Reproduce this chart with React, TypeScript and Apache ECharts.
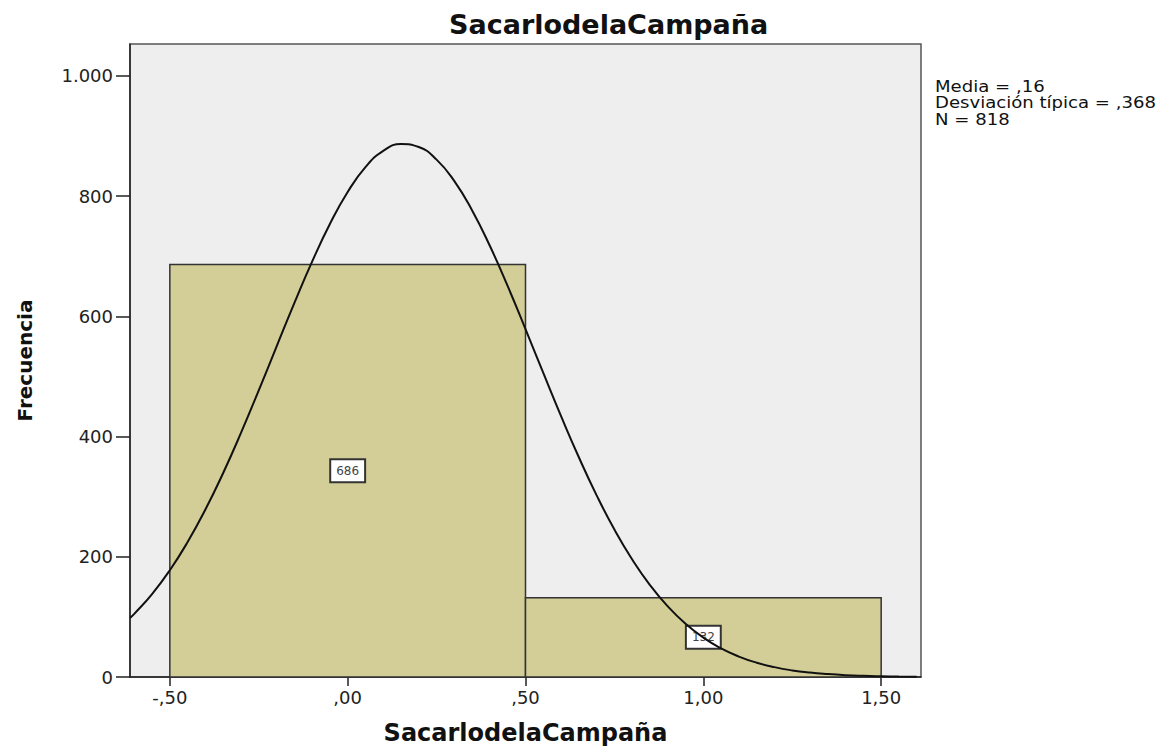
import React, { useEffect, useRef } from "react";
import * as echarts from "echarts";

const chartTitle = "SacarlodelaCampaña";
const xAxisName = "SacarlodelaCampaña";
const yAxisName = "Frecuencia";
const statsLines = ["Media = ,16", "Desviación típica = ,368", "N = 818"];

// histogram bins: [start, end]
const binStarts = [-0.5, 0.5];
const binEnds = [0.5, 1.5];
const binCounts = [686, 132];

const xTicks = [-0.5, 0, 0.5, 1, 1.5];
const yTicks = [0, 200, 400, 600, 800, 1000];

// fitted normal curve
const curveX = [
  -0.612, -0.6, -0.55, -0.5, -0.45, -0.4, -0.35, -0.3, -0.25, -0.2, -0.15, -0.1, -0.05, 0,
  0.05, 0.1, 0.15, 0.2, 0.25, 0.3, 0.35, 0.4, 0.45, 0.5, 0.55, 0.6, 0.65, 0.7, 0.75, 0.8,
  0.85, 0.9, 0.95, 1.0, 1.05, 1.1, 1.15, 1.2, 1.25, 1.3, 1.35, 1.4, 1.45, 1.5, 1.55, 1.6,
];
const curveY = [
  98.3, 105.1, 137.9, 177.6, 224.5, 278.6, 339.4, 406.0, 476.8, 549.6, 621.9, 690.9, 753.6, 806.8,
  848.1, 875.1, 886.5, 881.6, 860.7, 824.9, 776.1, 716.9, 650.1, 578.7, 505.8, 433.9, 365.5, 302.2, 245.3, 195.5,
  152.9, 117.4, 88.5, 65.5, 47.6, 34.0, 23.8, 16.4, 11.0, 7.3, 4.8, 3.0, 1.9, 1.2, 0.7, 0.4,
];

const FONT = "'DejaVu Sans', 'Liberation Sans', Arial, sans-serif";

function fmtX(v: number): string {
  let s = v.toFixed(2).replace(".", ",");
  s = s.replace(/^(-?)0,/, "$1,");
  return s;
}
function fmtY(v: number): string {
  return v >= 1000 ? String(v).replace(/(\d)(\d{3})$/, "$1.$2") : String(v);
}

export default function App() {
  const ref = useRef<HTMLDivElement>(null);
  useEffect(() => {
    if (!ref.current) return;
    const chart = echarts.init(ref.current, undefined, { renderer: "svg" });
    const barData = binStarts.map((s, i) => [s, binEnds[i], binCounts[i]]);
    const lineData = curveX.map((x, i) => [x, curveY[i]]);
    chart.setOption({
      animation: false,
      backgroundColor: "#ffffff",
      textStyle: { fontFamily: FONT },
      grid: {
        left: 130,
        right: 248,
        top: 44,
        bottom: 74,
        show: true,
        backgroundColor: "#eeeeee",
        borderColor: "#555555",
        borderWidth: 1.5,
      },
      graphic: [
        {
          type: "text",
          left: 609 - 160,
          top: 11,
          style: {
            text: chartTitle,
            font: `bold 27px ${FONT}`,
            fill: "#111",
          },
        },
        {
          type: "text",
          x: 935,
          y: 78,
          scaleX: 1.13,
          style: {
            text: statsLines.join("\n"),
            font: `16px ${FONT}`,
            lineHeight: 16.5,
            fill: "#111",
          },
        },
      ],
      xAxis: {
        type: "value",
        min: -0.612,
        max: 1.612,
        name: xAxisName,
        nameLocation: "middle",
        nameGap: 44,
        nameTextStyle: { fontFamily: FONT, fontWeight: "bold", fontSize: 24, color: "#111" },
        axisLine: { show: true, onZero: false, lineStyle: { color: "#222", width: 1.5 } },
        axisTick: { show: true, length: 9, customValues: xTicks, lineStyle: { color: "#222", width: 1.5 } },
        axisLabel: {
          customValues: xTicks,
          formatter: (v: number) => fmtX(v),
          fontFamily: FONT,
          fontSize: 18,
          color: "#222",
          margin: 11,
        },
        splitLine: { show: false },
      },
      yAxis: {
        type: "value",
        min: 0,
        max: 1053,
        name: yAxisName,
        nameLocation: "middle",
        nameGap: 95,
        nameTextStyle: { fontFamily: FONT, fontWeight: "bold", fontSize: 20, color: "#111" },
        axisLine: { show: true, onZero: false, lineStyle: { color: "#222", width: 1.5 } },
        axisTick: { show: true, length: 14, customValues: yTicks, lineStyle: { color: "#222", width: 1.5 } },
        axisLabel: {
          customValues: yTicks,
          formatter: (v: number) => fmtY(v),
          fontFamily: FONT,
          fontSize: 18,
          color: "#222",
          margin: 17,
        },
        splitLine: { show: false },
      },
      series: [
        {
          type: "custom",
          z: 2,
          data: barData,
          encode: { x: [0, 1], y: 2 },
          renderItem: (params: any, api: any) => {
            const s = api.value(0);
            const e = api.value(1);
            const c = api.value(2);
            const p0 = api.coord([s, c]);
            const p1 = api.coord([e, 0]);
            const mid = api.coord([(s + e) / 2, c / 2]);
            return {
              type: "group",
              children: [
                {
                  type: "rect",
                  shape: { x: p0[0], y: p0[1], width: p1[0] - p0[0], height: p1[1] - p0[1] },
                  style: { fill: "#d3ce97", stroke: "#333333", lineWidth: 1.5 },
                },
                {
                  type: "text",
                  x: mid[0],
                  y: mid[1],
                  style: {
                    text: String(c),
                    font: `12px ${FONT}`,
                    fill: "#444",
                    align: "center",
                    verticalAlign: "middle",
                    backgroundColor: "#ffffff",
                    borderColor: "#333333",
                    borderWidth: 2,
                    padding: [5, 5, 4, 5],
                  },
                },
              ],
            };
          },
        },
        {
          type: "line",
          z: 3,
          data: lineData,
          showSymbol: false,
          smooth: true,
          lineStyle: { color: "#111", width: 2 },
        },
      ],
    });
    return () => chart.dispose();
  }, []);
  return (
    <div
      ref={ref}
      style={{ position: "fixed", left: 0, top: 0, width: 1169, height: 751 }}
    />
  );
}
